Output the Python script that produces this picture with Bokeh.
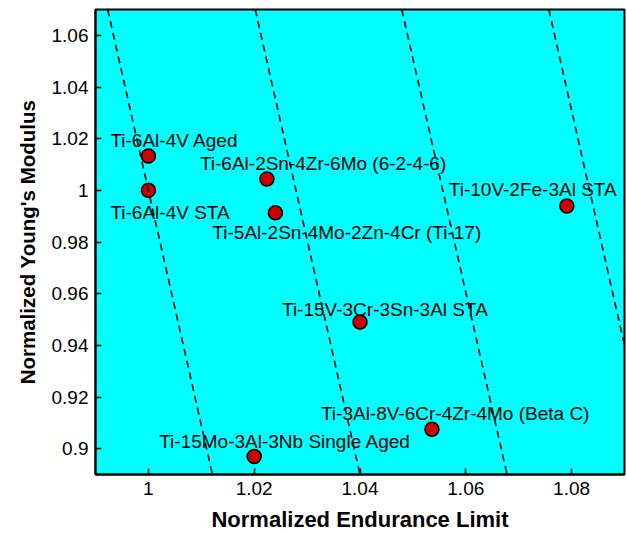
from bokeh.plotting import figure
from bokeh.models import ColumnDataSource, LabelSet, FixedTicker, Range1d
from bokeh.core.properties import value
from bokeh.embed import file_html
from bokeh.resources import INLINE

# ---- data ----
alloys = [
    "Ti-6Al-4V Aged",
    "Ti-6Al-4V STA",
    "Ti-6Al-2Sn-4Zr-6Mo (6-2-4-6)",
    "Ti-5Al-2Sn-4Mo-2Zn-4Cr (Ti-17)",
    "Ti-10V-2Fe-3Al STA",
    "Ti-15V-3Cr-3Sn-3Al STA",
    "Ti-3Al-8V-6Cr-4Zr-4Mo (Beta C)",
    "Ti-15Mo-3Al-3Nb Single Aged",
]
endurance = [1.000, 1.000, 1.0224, 1.0240, 1.0791, 1.0400, 1.0536, 1.0200]
modulus = [1.0133, 1.0000, 1.0044, 0.9913, 0.9939, 0.9490, 0.9075, 0.8970]

# dashed guide lines (x at top y and at bottom y)
guide_y_top = 1.07
guide_y_bottom = 0.89
guide_x_top = [0.9923, 1.0202, 1.0479, 1.0757]
guide_x_bottom = [1.0121, 1.0400, 1.0678, 1.0955]

x_ticks = [1.00, 1.02, 1.04, 1.06, 1.08]
x_tick_labels = ["1", "1.02", "1.04", "1.06", "1.08"]
y_ticks = [0.90, 0.92, 0.94, 0.96, 0.98, 1.00, 1.02, 1.04, 1.06]
y_tick_labels = ["0.9", "0.92", "0.94", "0.96", "0.98", "1", "1.02", "1.04", "1.06"]

# label placement (pixels relative to point; left edge, vertical middle)
label_dx = [-38, -38, -67, -63, -118, -78, -111, -95]
label_dy = [15, -22, 15, -20, 17, 13, 16, 15]

FONT = "Liberation Sans"

p = figure(width=627, height=534, output_backend="svg", toolbar_location=None,
           x_range=Range1d(0.99, 1.09), y_range=Range1d(0.89, 1.07),
           min_border_left=95, min_border_right=3, min_border_top=9,
           min_border_bottom=58)

p.background_fill_color = "#00FFFF"
p.border_fill_color = "white"
p.outline_line_color = "black"
p.outline_line_width = 2
p.grid.visible = False

# points
src = ColumnDataSource(dict(x=endurance, y=modulus, name=alloys,
                            dx=label_dx, dy=label_dy))
p.scatter("x", "y", source=src, size=14, fill_color="#CC0000",
          line_color="black", line_width=1.5)

# guide lines
xs = [[xt, xb] for xt, xb in zip(guide_x_top, guide_x_bottom)]
ys = [[guide_y_top, guide_y_bottom] for _ in guide_x_top]
p.multi_line(xs, ys, line_color="black", line_width=1.6, line_dash="7 5")

labels = LabelSet(x="x", y="y", text="name", source=src,
                  x_offset="dx", y_offset="dy",
                  text_font=value(FONT), text_font_size=value("19px"),
                  text_align="left", text_baseline="middle",
                  text_color="black")
p.add_layout(labels)

# axes
p.xaxis.ticker = FixedTicker(ticks=x_ticks)
p.yaxis.ticker = FixedTicker(ticks=y_ticks)
p.xaxis.major_label_overrides = {t: l for t, l in zip(x_ticks, x_tick_labels)}
p.yaxis.major_label_overrides = {t: l for t, l in zip(y_ticks, y_tick_labels)}

for ax in (p.xaxis, p.yaxis):
    ax.major_tick_in = 6
    ax.major_tick_out = 0
    ax.major_tick_line_color = "black"
    ax.major_tick_line_width = 1.5
    ax.minor_tick_line_color = None
    ax.axis_line_color = "black"
    ax.axis_line_width = 2
    ax.major_label_text_font = FONT
    ax.major_label_text_font_size = "19px"
    ax.major_label_text_color = "black"
    ax.axis_label_text_font = FONT
    ax.axis_label_text_font_style = "bold"
    ax.axis_label_text_color = "black"
    ax.major_label_standoff = 7

p.xaxis.axis_label = "Normalized Endurance Limit"
p.yaxis.axis_label = "Normalized Young's Modulus"
p.xaxis.axis_label_text_font_size = "22px"
p.yaxis.axis_label_text_font_size = "20.5px"
p.xaxis.axis_label_standoff = 9
p.yaxis.axis_label_standoff = 10

open("out.html", "w").write(file_html(p, INLINE))
